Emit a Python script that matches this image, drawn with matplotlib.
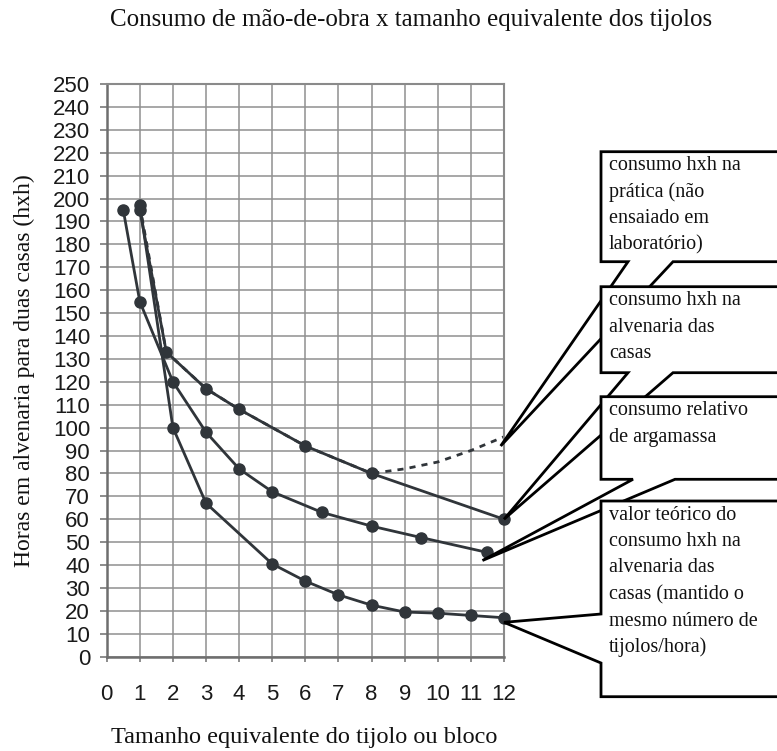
import matplotlib
matplotlib.use("Agg")
import matplotlib.pyplot as plt
from matplotlib.patches import Polygon

# ---- data -------------------------------------------------------------
x_alvenaria = [1, 1.8, 3, 4, 6, 8, 12]
y_alvenaria = [195, 133, 117, 108, 92, 80, 60]

x_pratica = [1, 1.8, 3, 4, 6, 8, 9, 10, 11, 12]
y_pratica = [197, 133, 117, 108, 92, 80, 82, 85, 90, 96]

x_argamassa = [0.5, 1, 2, 3, 4, 5, 6.5, 8, 9.5, 11.5]
y_argamassa = [195, 155, 120, 98, 82, 72, 63, 57, 52, 45.5]

x_teorico = [1, 2, 3, 5, 6, 7, 8, 9, 10, 11, 12]
y_teorico = [197, 100, 67, 40.5, 33, 27, 22.5, 19.5, 19, 18, 17]

x_ticks = list(range(0, 13))
y_ticks = list(range(0, 251, 10))

title = "Consumo de mão-de-obra x tamanho equivalente dos tijolos"
x_label = "Tamanho equivalente do tijolo ou bloco"
y_label = "Horas em alvenaria para duas casas (hxh)"

label_pratica = ["consumo hxh na", "prática (não", "ensaiado em", "laboratório)"]
label_alvenaria = ["consumo hxh na", "alvenaria das", "casas"]
label_argamassa = ["consumo relativo", "de argamassa"]
label_teorico = ["valor teórico do", "consumo hxh na", "alvenaria das",
                 "casas (mantido o", "mesmo número de", "tijolos/hora)"]

# ---- figure -------------------------------------------------------------
W, H = 777, 751
fig = plt.figure(figsize=(W / 100, H / 100), dpi=100, facecolor="white")

SERIF = ["Liberation Serif", "DejaVu Serif"]
SANS = ["Liberation Sans", "DejaVu Sans"]
INK = "#30353a"
GRID = "#8f8f8f"


def fx(px):
    return px / W


def fy(py):
    return 1 - py / H


ax = fig.add_axes([fx(106.7), fy(656.7), fx(504) - fx(106.7), fy(84) - fy(656.7)])
ax.set_xlim(0, 12)
ax.set_ylim(0, 250)
ax.set_xticks(x_ticks)
ax.set_yticks(y_ticks)
ax.grid(True, color=GRID, linewidth=1.1)
ax.set_axisbelow(True)
for side in ["left", "bottom"]:
    ax.spines[side].set_color("#6e6e6e")
    ax.spines[side].set_linewidth(1.8)
for side in ["right", "top"]:
    ax.spines[side].set_color("#8a8a8a")
    ax.spines[side].set_linewidth(1.5)

ax.tick_params(axis="y", length=5, width=1.1, color="#6e6e6e", pad=7,
               labelsize=16, labelcolor="#1a1a1a")
ax.tick_params(axis="x", length=3.5, width=1.1, color="#6e6e6e", pad=16.5,
               labelsize=16, labelcolor="#1a1a1a")
for lbl in ax.get_xticklabels() + ax.get_yticklabels():
    lbl.set_family(SANS)

line_kw = dict(color=INK, linewidth=2.0, solid_joinstyle="round",
               marker="o", markersize=8, markerfacecolor=INK,
               markeredgecolor=INK, clip_on=False, zorder=3)

ax.plot(x_pratica, y_pratica, color=INK, linewidth=2.0,
        linestyle=(0, (2.2, 2.2)), zorder=2, clip_on=False)
ax.plot(x_teorico, y_teorico, **line_kw)
ax.plot(x_argamassa, y_argamassa, **line_kw)
ax.plot(x_alvenaria, y_alvenaria, **line_kw)

fig.text(fx(411), fy(20), title, family=SERIF, fontsize=18,
         ha="center", va="center", color="#111111")
fig.text(fx(304), fy(738), x_label, family=SERIF, fontsize=17.5,
         ha="center", va="center", color="#111111")
fig.text(fx(24), fy(371), y_label, family=SERIF, fontsize=17,
         ha="center", va="center", rotation=90, color="#111111")

# ---- callout boxes ------------------------------------------------------
to_fig = fig.transFigure.inverted()


def data_px(x, y):
    dx, dy = ax.transData.transform((x, y))
    fxx, fyy = to_fig.transform((dx, dy))
    return fxx * W, (1 - fyy) * H


def callout(top, bottom, tip, base, lines, z, side="bottom"):
    left, right = 601, 820
    tx, ty = tip
    b1, b2 = base
    if side == "bottom":
        pts = [(left, top), (right, top), (right, bottom), (b2, bottom),
               (tx, ty), (b1, bottom), (left, bottom)]
    else:
        pts = [(left, top), (right, top), (right, bottom), (left, bottom),
               (left, b2), (tx, ty), (left, b1)]
    poly = Polygon([(fx(px), fy(py)) for px, py in pts], closed=True,
                   transform=fig.transFigure, facecolor="white",
                   edgecolor="black", linewidth=2.0, joinstyle="miter",
                   zorder=z)
    fig.add_artist(poly)
    y0 = top + 14
    for i, s in enumerate(lines):
        fig.text(fx(609), fy(y0 + i * 26.5), s, family=SERIF, fontsize=14.5,
                 ha="left", va="center", color="#111111", zorder=z + 0.5)


callout(151.7, 261.7, data_px(x_pratica[-1] - 0.1, y_pratica[-1] - 4),
        (628, 673), label_pratica, 10)
callout(286.7, 372.7, data_px(x_alvenaria[-1], y_alvenaria[-1]),
        (628, 673), label_alvenaria, 12)
callout(396.7, 479.3, data_px(x_argamassa[-1] - 0.15, y_argamassa[-1] - 3.5),
        (633, 675), label_argamassa, 14)
callout(501, 696.7, data_px(x_teorico[-1], y_teorico[-1] - 2),
        (614, 663), label_teorico, 16, side="left")

fig.savefig("out.png", dpi=100, facecolor="white")
